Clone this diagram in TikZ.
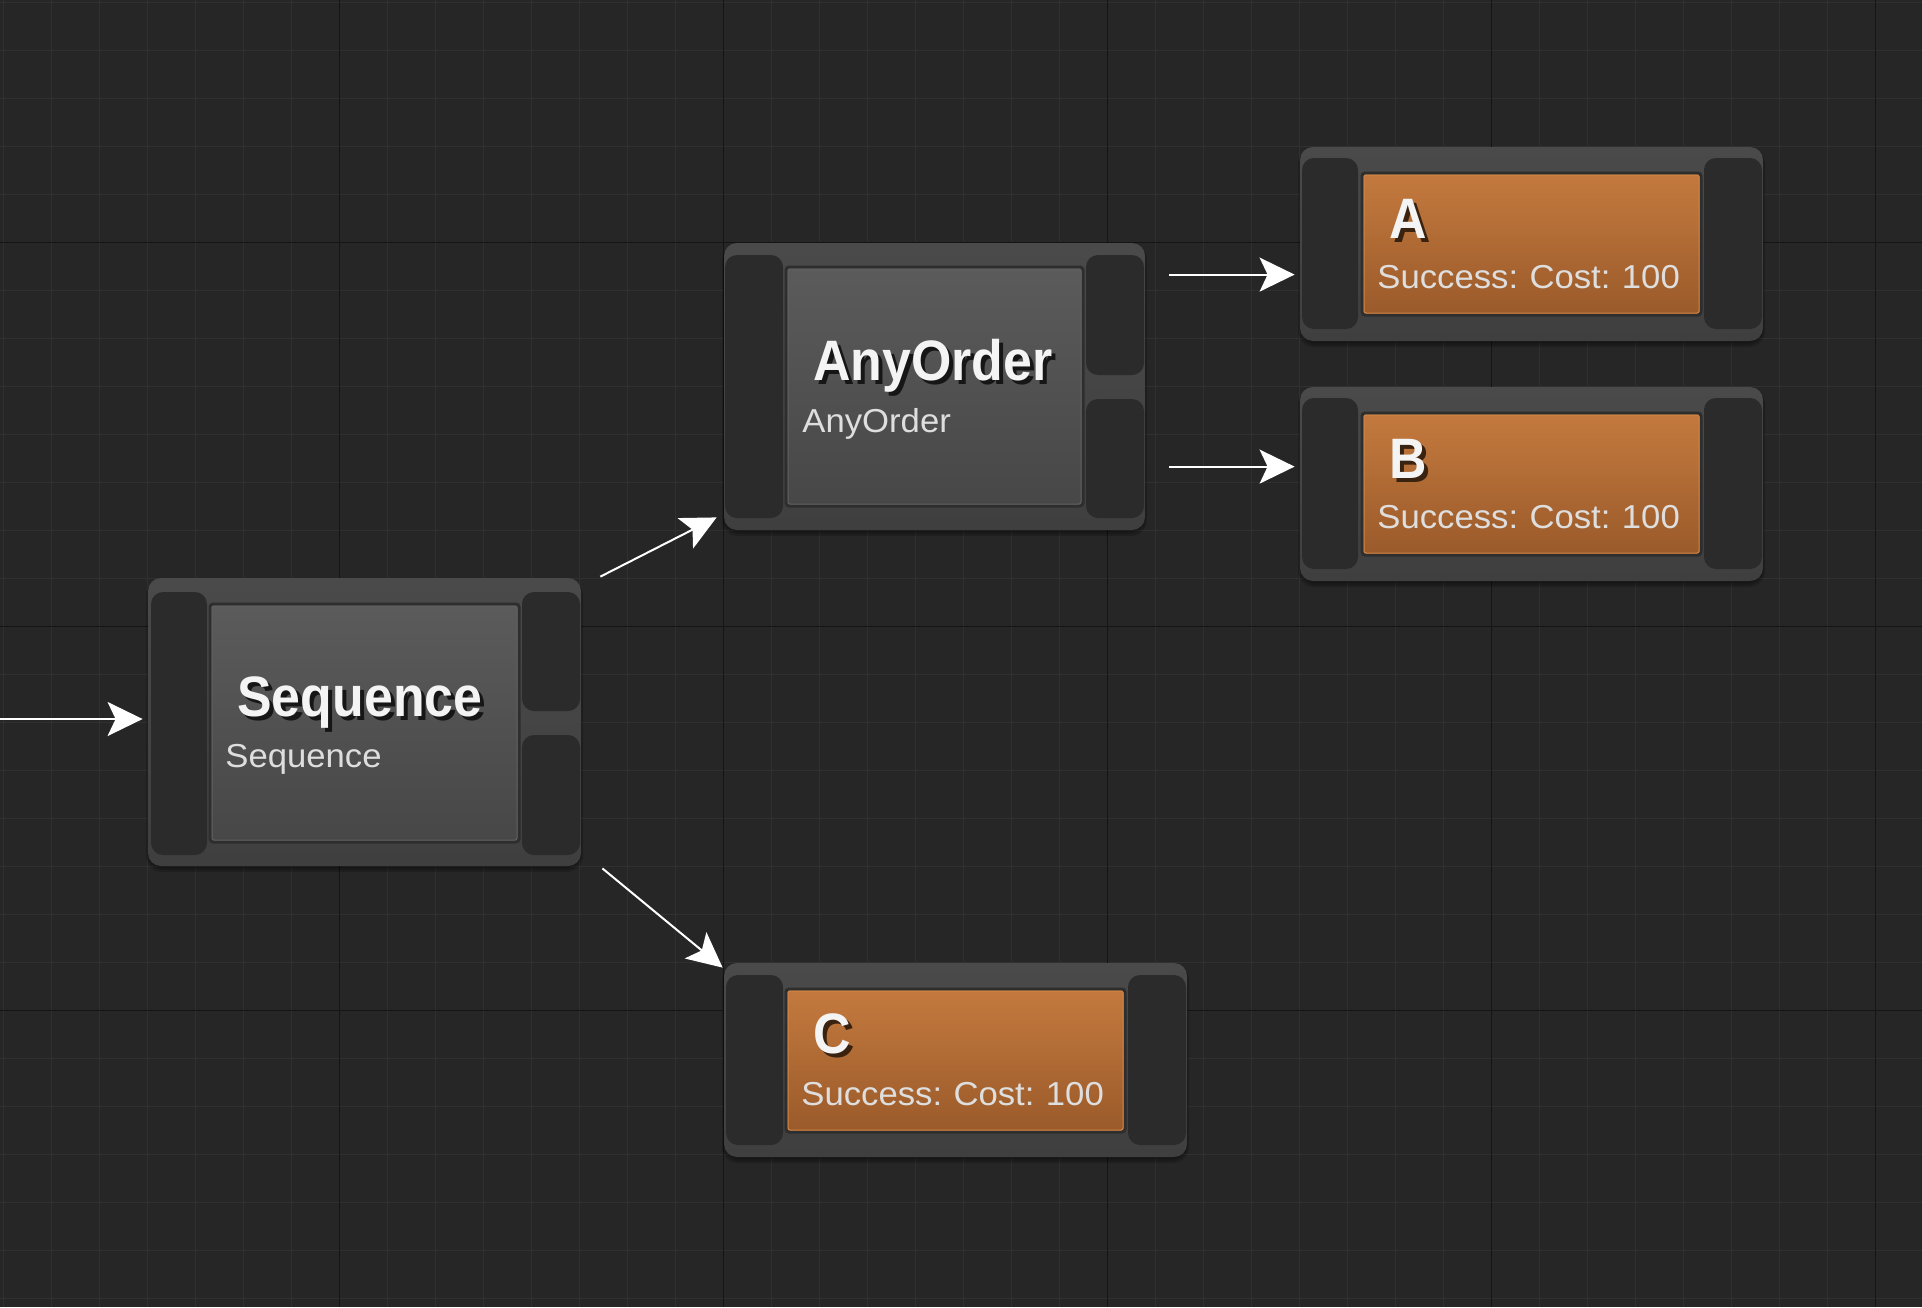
\documentclass[tikz,border=0pt]{standalone}
\usepackage{fontspec}
\setmainfont{Liberation Sans}
\newfontfamily\ttlfont{Liberation Sans}[FakeStretch=0.91]
\newfontfamily\subfont{Liberation Sans}[FakeStretch=1.045,WordSpace=0.85]
\usetikzlibrary{arrows.meta,fit}
\definecolor{bg}{HTML}{262626}
\definecolor{gridminor}{HTML}{303030}
\definecolor{gridmajor}{HTML}{151515}
\definecolor{outerT}{HTML}{4A4A4A}
\definecolor{outerB}{HTML}{3F3F3F}
\definecolor{pincol}{HTML}{2B2B2B}
\definecolor{grayT}{HTML}{5B5B5B}
\definecolor{grayB}{HTML}{474747}
\definecolor{orT}{HTML}{C47A3E}
\definecolor{orB}{HTML}{9A5A2A}
\definecolor{orEdge}{HTML}{CF8548}
\definecolor{grayEdge}{HTML}{606060}
\definecolor{boxEdge}{HTML}{2E2E2E}
\definecolor{titlecol}{HTML}{F4F4F4}
\definecolor{subcol}{HTML}{DEDEDE}
\definecolor{shgray}{HTML}{161616}
\definecolor{shorange}{HTML}{3A2211}
% title text with its dark drop shadow, in one box
\newcommand\shtext[2]{\rlap{\hspace{2pt}\raisebox{-2pt}{\textcolor{#1}{#2}}}#2}
\newcommand\softshadow[5]{%
  \node[shadowbox, fit={(#2-2,#3+1) (#4+2,#5+6)}] (#1-a) {};
  \node[shadowbox, fit={(#2-1,#3+1) (#4+1,#5+4)}] (#1-b) {};
  \node[shadowbox, fit={(#2,#3+1) (#4,#5+2)}] (#1-c) {};}
\begin{document}
\begin{tikzpicture}[x=0.5pt,y=-0.5pt,
  shadowbox/.style={inner sep=0, rounded corners=8pt, fill=black, opacity=0.16, draw=none},
  outerbox/.style={inner sep=0, rounded corners=6.5pt, top color=outerT, bottom color=outerB, draw=none},
  pinbox/.style={inner sep=0, rounded corners=6pt, fill=pincol, draw=none},
  graybox/.style={inner sep=0, rounded corners=1.5pt, top color=grayT, bottom color=grayB, draw=boxEdge, line width=1.5pt},
  grayedge/.style={inner sep=0, rounded corners=1pt, draw=grayEdge, line width=0.5pt},
  orbox/.style={inner sep=0, rounded corners=1.5pt, top color=orT, bottom color=orB, draw=boxEdge, line width=1.5pt},
  oredge/.style={inner sep=0, rounded corners=1pt, draw=orEdge, line width=0.5pt},
  title/.style={inner sep=0, anchor=base west, text=titlecol, font=\ttlfont\bfseries\fontsize{28.5}{30}\selectfont},
  subtitle/.style={inner sep=0, anchor=base west, text=subcol, font=\subfont\fontsize{16.6}{20}\selectfont},
  arr/.style={draw=white, line width=1pt, -{Stealth[length=17.5pt, width=17pt, inset=4pt]}}
]
\useasboundingbox (0,0) rectangle (1922,1307);
\fill[bg] (0,0) rectangle (1922,1307);
% grid
\foreach \i in {0,...,39} \draw[gridminor, line width=0.5pt] ({3.3+48*\i},0) -- ({3.3+48*\i},1307);
\foreach \j in {0,...,27} \draw[gridminor, line width=0.5pt] (0,{2.3+48*\j}) -- (1922,{2.3+48*\j});
\foreach \i in {0,...,4} \draw[gridmajor, line width=0.6pt] ({339.3+384*\i},0) -- ({339.3+384*\i},1307);
\foreach \j in {0,...,2} \draw[gridmajor, line width=0.6pt] (0,{242.3+384*\j}) -- (1922,{242.3+384*\j});

% ---------- Sequence ----------
\softshadow{seqSh}{148}{578}{581}{866}
\node[outerbox, fit={(148,578) (581,866)}] (seq) {};
\node[pinbox, fit={(151,592) (207,855)}] (seqIn) {};
\node[pinbox, fit={(522,592) (580,711)}] (seqO1) {};
\node[pinbox, fit={(522,735) (580,855)}] (seqO2) {};
\node[graybox, fit={(210,604) (519,842)}] (seqBody) {};
\node[grayedge, fit={(212,606) (517,840)}] (seqEdge) {};
\node[title] (seqT) at (237,716) {\shtext{shgray}{Sequence}};
\node[subtitle] (seqSub) at (225,767) {Sequence};

% ---------- AnyOrder ----------
\softshadow{aoSh}{724}{243}{1145}{530}
\node[outerbox, fit={(724,243) (1145,530)}] (ao) {};
\node[pinbox, fit={(725,255) (783,518)}] (aoIn) {};
\node[pinbox, fit={(1086,255) (1144,375)}] (aoO1) {};
\node[pinbox, fit={(1086,399) (1144,518)}] (aoO2) {};
\node[graybox, fit={(786,267) (1083,506)}] (aoBody) {};
\node[grayedge, fit={(788,269) (1081,504)}] (aoEdge) {};
\node[title] (aoT) at (813,380) {\shtext{shgray}{AnyOrder}};
\node[subtitle] (aoSub) at (802,432) {AnyOrder};

% ---------- A ----------
\softshadow{aSh}{1300}{147}{1763}{341}
\node[outerbox, fit={(1300,147) (1763,341)}] (A) {};
\node[pinbox, fit={(1302,158) (1358,329)}] (aIn) {};
\node[pinbox, fit={(1704,158) (1762,329)}] (aOut) {};
\node[orbox, fit={(1362,173) (1701,315)}] (aBody) {};
\node[oredge, fit={(1364,175) (1699,313)}] (aEdge) {};
\node[title] (aT) at (1389,238) {\shtext{shorange}{A}};
\node[subtitle] (aSub) at (1377,288) {Success: Cost: 100};

% ---------- B ----------
\softshadow{bSh}{1300}{387}{1763}{581}
\node[outerbox, fit={(1300,387) (1763,581)}] (B) {};
\node[pinbox, fit={(1302,398) (1358,569)}] (bIn) {};
\node[pinbox, fit={(1704,398) (1762,569)}] (bOut) {};
\node[orbox, fit={(1362,413) (1701,555)}] (bBody) {};
\node[oredge, fit={(1364,415) (1699,553)}] (bEdge) {};
\node[title] (bT) at (1389,478) {\shtext{shorange}{B}};
\node[subtitle] (bSub) at (1377,528) {Success: Cost: 100};

% ---------- C ----------
\softshadow{cSh}{724}{963}{1187}{1157}
\node[outerbox, fit={(724,963) (1187,1157)}] (cN) {};
\node[pinbox, fit={(726,975) (783,1145)}] (cIn) {};
\node[pinbox, fit={(1128,975) (1186,1145)}] (cOut) {};
\node[orbox, fit={(786,989) (1125,1132)}] (cBody) {};
\node[oredge, fit={(788,991) (1123,1130)}] (cEdge) {};
\node[title] (cT) at (813,1053) {\shtext{shorange}{C}};
\node[subtitle] (cSub) at (801,1105) {Success: Cost: 100};

% ---------- connectors ----------
\coordinate (inS) at (0,719);
\coordinate (inE) at ([shift={(-5,-3)}]seq.west);
\coordinate (s1) at ([shift={(19,-1)}]seq.north east);
\coordinate (t1) at ([shift={(-7,-13)}]ao.south west);
\coordinate (s2) at ([shift={(21,2)}]seq.south east);
\coordinate (t2) at ([shift={(-1,5)}]cN.north west);
\coordinate (a1) at ([shift={(24,32)}]ao.north east);
\coordinate (a2) at ([shift={(-5,128)}]A.north west);
\coordinate (b1) at ([shift={(24,224)}]ao.north east);
\coordinate (b2) at ([shift={(-5,80)}]B.north west);
\draw[arr] (inS) -- (inE);
\draw[arr] (s1) -- (t1);
\draw[arr] (s2) -- (t2);
\draw[arr] (a1) -- (a2);
\draw[arr] (b1) -- (b2);
\end{tikzpicture}
\end{document}
